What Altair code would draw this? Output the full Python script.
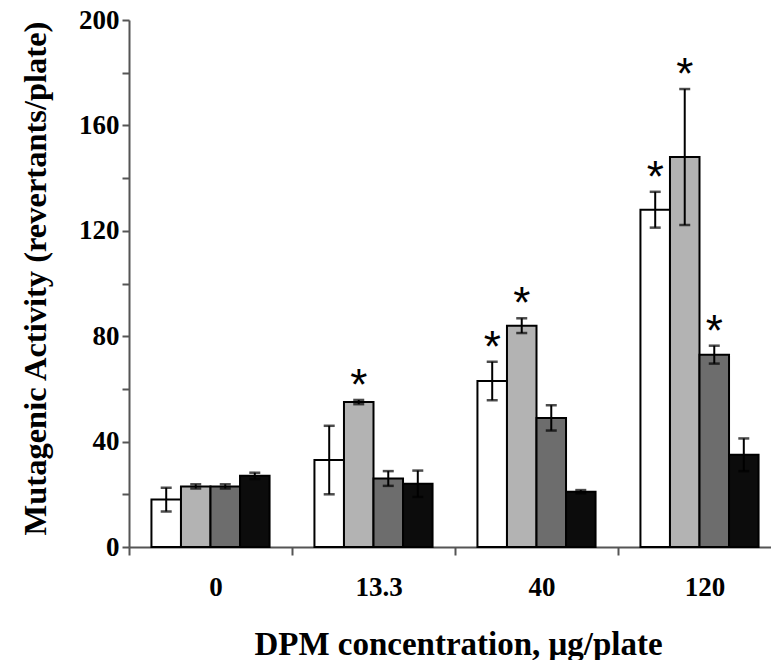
import altair as alt
import pandas as pd

# DPM doses on the x axis and the four bar series drawn within each dose
doses = ["0", "13.3", "40", "120"]
series = ["Series 1", "Series 2", "Series 3", "Series 4"]
fills = ["#ffffff", "#b3b3b3", "#6d6d6d", "#0c0c0c"]

# mean revertants/plate for each series, per dose
s1_mean = [18, 33, 63, 128]
s2_mean = [23, 55, 84, 148]
s3_mean = [23, 26, 49, 73]
s4_mean = [27, 24, 21, 35]

# standard errors
s1_err = [4.5, 13, 7.3, 6.8]
s2_err = [0.8, 0.8, 2.8, 25.8]
s3_err = [0.8, 2.8, 4.8, 3.4]
s4_err = [1.2, 5, 0.6, 6.2]

# 1 = significant (marked with an asterisk)
s1_sig = [0, 0, 1, 1]
s2_sig = [0, 1, 1, 1]
s3_sig = [0, 0, 0, 1]
s4_sig = [0, 0, 0, 0]

means = [s1_mean, s2_mean, s3_mean, s4_mean]
errs = [s1_err, s2_err, s3_err, s4_err]
sigs = [s1_sig, s2_sig, s3_sig, s4_sig]

rows = []
for si, name in enumerate(series):
    for di, dose in enumerate(doses):
        m = means[si][di]
        e = errs[si][di]
        rows.append({"dose": dose, "series": name, "mean": m,
                     "lo": m - e, "hi": m + e, "sig": sigs[si][di]})
df = pd.DataFrame(rows)

SERIF = "Liberation Serif"
AXIS_GREY = "#555555"

x_enc = alt.X(
    "dose:N", sort=doses,
    scale=alt.Scale(range=[0, 652], paddingInner=0, paddingOuter=0),
    axis=alt.Axis(
        title="DPM concentration, μg/plate", labelAngle=0, tickBand="extent",
        tickSize=8, tickWidth=2, tickColor=AXIS_GREY, domainColor=AXIS_GREY,
        domainWidth=2, labelPadding=40, labelBaseline="alphabetic",
        labelOffset=5, labelFont=SERIF, labelFontSize=27,
        labelFontWeight="bold", labelColor="black", titleFont=SERIF,
        titleFontSize=33, titleFontWeight="bold", titleColor="black",
        titleX=329, titleY=107, titleBaseline="alphabetic",
        titleAnchor="middle", titleAlign="center",
    ),
)
xo_enc = alt.XOffset("series:N", sort=series,
                     scale=alt.Scale(paddingInner=0, paddingOuter=0.76))

y_axis = alt.Axis(
    title="Mutagenic Activity (revertants/plate)",
    values=list(range(0, 201, 20)),
    labelExpr="datum.value % 40 === 0 ? datum.label : ''",
    grid=False, tickSize=7, tickWidth=2, tickColor=AXIS_GREY,
    domainColor=AXIS_GREY, domainWidth=2, labelPadding=3, labelFont=SERIF,
    labelFontSize=27, labelFontWeight="bold", labelColor="black",
    titleFont=SERIF, titleFontSize=32.5, titleFontWeight="bold",
    titleColor="black", titleAngle=-90, titleX=-84, titleY=258,
    titleBaseline="alphabetic", titleAnchor="middle", titleAlign="center",
)
y_scale = alt.Scale(domain=[0, 200], nice=False)

base = alt.Chart(df)

bars = base.mark_bar(stroke="black", strokeWidth=2).encode(
    x=x_enc, xOffset=xo_enc,
    y=alt.Y("mean:Q", scale=y_scale, axis=y_axis),
    fill=alt.Fill("series:N", sort=series,
                  scale=alt.Scale(domain=series, range=fills), legend=None),
)

whiskers = base.mark_rule(color="black", strokeWidth=2).encode(
    x=x_enc, xOffset=xo_enc,
    y=alt.Y("lo:Q", scale=y_scale, axis=y_axis), y2="hi:Q",
)

cap_hi = base.mark_tick(color="black", orient="horizontal", size=11,
                        thickness=2.5).encode(
    x=x_enc, xOffset=xo_enc,
    y=alt.Y("hi:Q", scale=y_scale, axis=y_axis),
)
cap_lo = base.mark_tick(color="black", orient="horizontal", size=11,
                        thickness=2.5).encode(
    x=x_enc, xOffset=xo_enc,
    y=alt.Y("lo:Q", scale=y_scale, axis=y_axis),
)

stars = base.transform_filter("datum.sig == 1").mark_text(
    text="*", font="Liberation Sans", fontSize=44, color="black",
    baseline="alphabetic", dy=0,
).encode(
    x=x_enc, xOffset=xo_enc,
    y=alt.Y("hi:Q", scale=y_scale, axis=y_axis),
)

chart = alt.layer(bars, whiskers, cap_hi, cap_lo, stars).properties(
    width=642, height=527,
    autosize=alt.AutoSizeParams(type="none"),
    padding={"left": 129, "top": 20, "right": 0, "bottom": 113},
    background="white",
).configure_view(stroke=None)

chart.save("out.html", embed_options={"renderer": "svg", "actions": False})
